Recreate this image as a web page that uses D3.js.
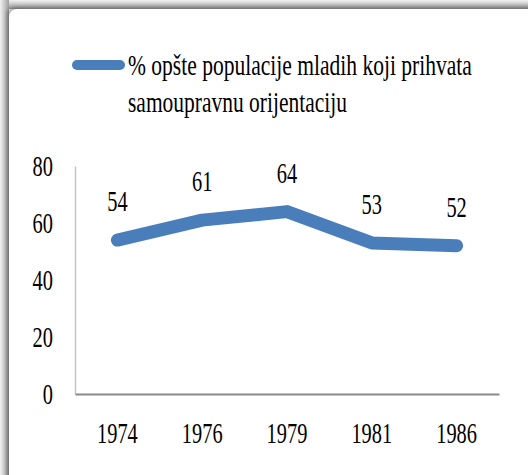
<!DOCTYPE html>
<html lang="sr">
<head>
  <meta charset="UTF-8" />
  <title>Samoupravna orijentacija mladih</title>
  <script src="https://cdn.jsdelivr.net/npm/d3@7"></script>
  <style>
    html, body {
      margin: 0;
      padding: 0;
      background: #ffffff;
      overflow: hidden;
    }
    .frame {
      position: absolute;
      left: 0;
      top: 0;
      width: 528px;
      height: 475px;
      background:
        linear-gradient(to right, #f2f2f2, #9e9e9e 9px, rgba(255,255,255,0) 9px),
        linear-gradient(to bottom, #f2f2f2, #9e9e9e 9px, #ffffff 9px);
    }
    .panel {
      position: absolute;
      left: 9px;
      top: 9px;
      width: 540px;
      height: 500px;
      background: #ffffff;
      border-top-left-radius: 8px;
      box-shadow: -2px -2px 4px rgba(0,0,0,0.35);
    }
    #chart {
      position: absolute;
      left: 0;
      top: 0;
    }
    text {
      font-family: "Liberation Serif", "DejaVu Serif", serif;
      fill: #000;
    }
  </style>
</head>
<body>
  <div class="frame"></div>
  <div class="panel"></div>
  <div id="chart"></div>

  <script>
    // Data
    const years = ["1974", "1976", "1979", "1981", "1986"];
    const values = [54, 61, 64, 53, 52];
    const yTicks = [0, 20, 40, 60, 80];
    const legendLines = ["% opšte populacije mladih koji prihvata", "samoupravnu orijentaciju"];

    const lineColor = "#4a7ebb";
    const squash = 0.68;   // text in the picture is narrow, like it was squeezed sideways

    const width = 528, height = 475;
    const plot = {left: 75, right: 499, top: 166, bottom: 394};

    const svg = d3.select("#chart")
      .append("svg")
        .attr("width", width)
        .attr("height", height);

    const x = d3.scaleBand()
      .domain(years)
      .range([plot.left, plot.right]);

    const y = d3.scaleLinear()
      .domain([0, 80])
      .range([plot.bottom, plot.top]);

    // Y axis
    const yAxis = svg.append("g")
      .attr("transform", `translate(${plot.left},0)`)
      .call(d3.axisLeft(y).tickValues(yTicks).tickSize(0));
    yAxis.select(".domain")
      .attr("stroke", "#c4c4c4")
      .attr("stroke-width", 1.5);
    yAxis.selectAll("text")
      .attr("x", 0)
      .attr("font-size", 30)
      .attr("font-family", "Liberation Serif, serif")
      .attr("transform", `translate(-22,0) scale(${squash},1)`);

    // X axis
    const xAxis = svg.append("g")
      .attr("transform", `translate(0,${plot.bottom})`)
      .call(d3.axisBottom(x).tickSize(0));
    xAxis.select(".domain")
      .attr("stroke", "#898989")
      .attr("stroke-width", 2);
    xAxis.selectAll("text")
      .attr("y", 0)
      .attr("dy", 0)
      .attr("font-size", 30)
      .attr("font-family", "Liberation Serif, serif")
      .attr("transform", `translate(0,49) scale(${squash},1)`);

    // Series line
    const pts = years.map((yr, i) => ({year: yr, value: values[i]}));
    const cx = d => x(d.year) + x.bandwidth() / 2;

    svg.append("path")
      .datum(pts)
      .attr("fill", "none")
      .attr("stroke", lineColor)
      .attr("stroke-width", 13)
      .attr("stroke-linecap", "round")
      .attr("stroke-linejoin", "round")
      .attr("d", d3.line().x(cx).y(d => y(d.value)));

    // Data labels
    svg.selectAll(".label")
      .data(pts)
      .join("text")
        .attr("class", "label")
        .attr("text-anchor", "middle")
        .attr("font-size", 30)
        .attr("transform", d => `translate(${cx(d)},${y(d.value) - 29}) scale(${squash},1)`)
        .text(d => d.value);

    // Legend
    svg.append("line")
      .attr("x1", 77).attr("x2", 120)
      .attr("y1", 65).attr("y2", 65)
      .attr("stroke", lineColor)
      .attr("stroke-width", 10)
      .attr("stroke-linecap", "round");

    // squeeze each legend line to the width it has in the picture
    const legendLen = [344, 219];
    svg.selectAll(".legend")
      .data(legendLines)
      .join("text")
        .attr("class", "legend")
        .attr("font-size", 29)
        .text(d => d)
        .attr("transform", function(d, i) {
          const natural = this.getComputedTextLength();
          const sx = natural > 0 ? legendLen[i] / natural : squash;
          return `translate(128,${75 + i * 37}) scale(${sx},1)`;
        });
  </script>
</body>
</html>
